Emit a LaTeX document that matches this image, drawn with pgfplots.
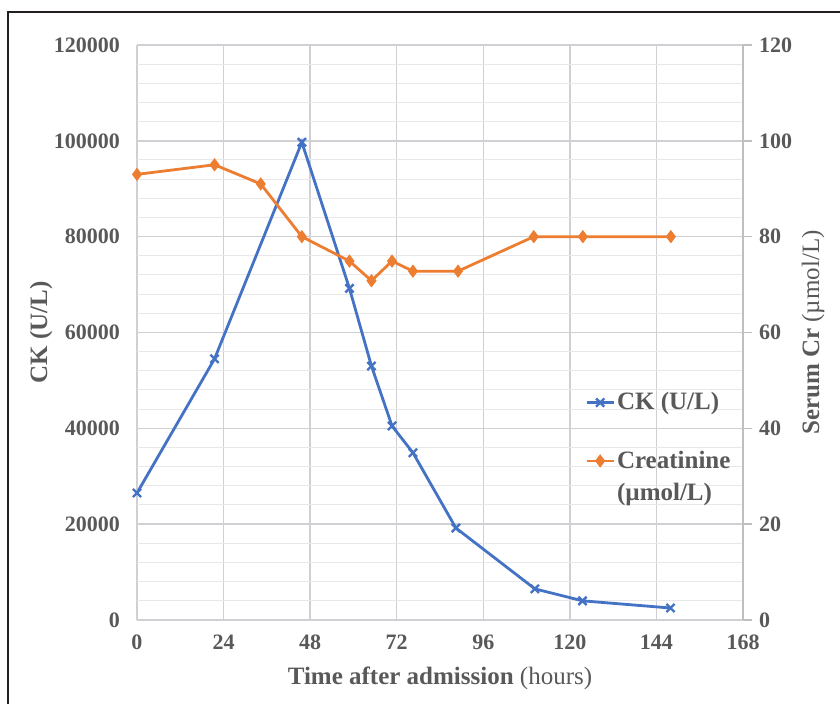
\documentclass[border=0pt]{standalone}
\usepackage{fontspec}
\setmainfont{Liberation Serif}
\usepackage{pgfplots}
\pgfplotsset{compat=1.18}
\definecolor{ckblue}{HTML}{4472C4}
\definecolor{crorange}{HTML}{ED7D31}
\definecolor{txtgray}{HTML}{595959}
\definecolor{gridmaj}{HTML}{D0D0D4}
\definecolor{gridmin}{HTML}{E8E8EA}
\definecolor{axgray}{HTML}{BFBFBF}
\definecolor{framec}{HTML}{231F20}
\begin{document}
\begin{tikzpicture}
\path[use as bounding box] (0,0) rectangle (420pt,352pt);
\draw[line width=1pt, framec] (4pt,-2pt) -- (4pt,346pt) -- (422pt,346pt);
\begin{axis}[
  at={(68.5pt,42pt)}, anchor=south west,
  scale only axis, width=303pt, height=287.5pt,
  xmin=0, xmax=168, ymin=0, ymax=120000,
  xtick={0,24,...,168}, ytick={0,20000,...,120000},
  minor y tick num=4,
  xmajorgrids, ymajorgrids, yminorgrids,
  major grid style={gridmaj, line width=0.75pt},
  minor grid style={gridmin, line width=0.5pt},
  axis line style={draw=none},
  major tick length=0pt, minor tick length=0pt,
  scaled y ticks=false,
  /pgf/number format/assume math mode=true,
  yticklabel style={/pgf/number format/fixed, /pgf/number format/1000 sep={}, xshift=-5pt},
  xticklabel style={yshift=-4pt},
  ticklabel style={font=\fontsize{11}{13}\selectfont\bfseries, text=txtgray},
  xlabel={\textbf{Time after admission} (hours)},
  ylabel={\textbf{CK (U/L)}},
  every axis x label/.style={at={(axis description cs:0.5,0)}, yshift=-29pt, anchor=center, font=\fontsize{12.5}{15}\selectfont, text=txtgray},
  every axis y label/.style={at={(axis description cs:0,0.5)}, xshift=-48pt, rotate=90, anchor=center, font=\fontsize{12.5}{15}\selectfont, text=txtgray},
  legend style={draw=none, fill=none, at={(0.739,0.40)}, anchor=north west, inner sep=0pt,
    row sep=17pt, text=txtgray,
    nodes={inner sep=1pt, font=\fontsize{12.5}{16}\selectfont\bfseries, text=txtgray}},
  legend cell align=left,
  legend image code/.code={\draw[mark repeat=2,mark phase=2,#1] plot coordinates {(0pt,0pt) (6.75pt,0pt) (13.5pt,0pt)};},
]
\addplot[ckblue, line width=1.4pt, mark=x, mark size=2.9pt, mark options={line width=1.2pt}] coordinates {
(0,26500) (21.5,54500) (45.7,99700) (58.9,69200) (65.0,53000) (70.7,40500) (76.5,34900) (88.4,19200) (110.3,6500) (123.5,4000) (147.9,2500)
};
\addlegendentry{\textbf{CK (U/L)}}
\addlegendimage{crorange, line width=1.4pt, mark=diamond*, mark size=2.2pt}
\addlegendentry{\vtop{\baselineskip=16pt\hbox{\textbf{Creatinine}}\hbox{\textbf{(µmol/L)}}}}
\end{axis}
\begin{axis}[
  at={(68.5pt,42pt)}, anchor=south west,
  scale only axis, width=303pt, height=287.5pt,
  xmin=0, xmax=168, ymin=0, ymax=120,
  ytick={0,20,...,120},
  axis x line=none, axis y line*=right,
  y axis line style={axgray, line width=0.75pt},
  ytick style={axgray, line width=0.75pt},
  tick align=outside, major tick length=4.5pt,
  /pgf/number format/assume math mode=true,
  yticklabel style={font=\fontsize{11}{13}\selectfont\bfseries, text=txtgray},
  ylabel={\textbf{Serum Cr} (µmol/L)},
  every axis y label/.style={at={(axis description cs:1,0.5)}, xshift=35pt, rotate=90, anchor=center, font=\fontsize{12.5}{15}\selectfont, text=txtgray},
]
\addplot[crorange, line width=1.4pt, mark=diamond*, mark size=2.2pt] coordinates {
(0,93) (21.5,95) (34.3,91) (45.7,80) (58.9,74.9) (65.0,70.8) (70.7,74.9) (76.5,72.8) (89.0,72.8) (110.0,80) (123.6,80) (148.0,80)
};
\end{axis}
\end{tikzpicture}
\end{document}
